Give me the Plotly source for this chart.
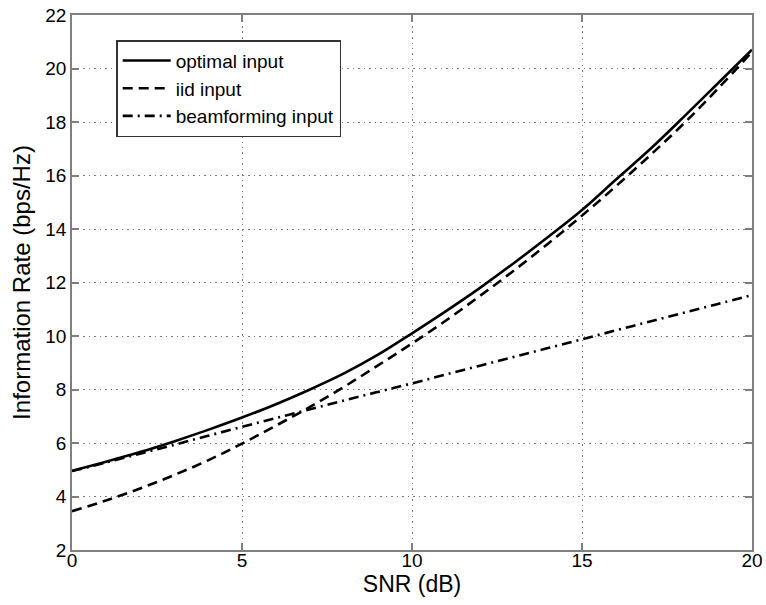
import plotly.graph_objects as go

snr_db = list(range(0, 21))
optimal_input = [4.96, 5.30, 5.66, 6.06, 6.49, 6.95, 7.45, 8.00, 8.60, 9.30, 10.10,
                 10.93, 11.80, 12.73, 13.70, 14.71, 15.85, 16.98, 18.20, 19.45, 20.70]
iid_input = [3.45, 3.85, 4.30, 4.80, 5.35, 5.98, 6.65, 7.35, 8.10, 8.90, 9.72,
             10.58, 11.50, 12.45, 13.45, 14.50, 15.60, 16.75, 17.95, 19.25, 20.62]
beamforming_input = [4.95, 5.27, 5.60, 5.93, 6.27, 6.60, 6.93, 7.26, 7.59, 7.91, 8.23,
                     8.56, 8.89, 9.22, 9.55, 9.88, 10.21, 10.54, 10.87, 11.20, 11.53]

x_ticks = [0, 5, 10, 15, 20]
y_ticks = [2, 4, 6, 8, 10, 12, 14, 16, 18, 20, 22]

font = "Liberation Sans, Arial, sans-serif"

fig = go.Figure()
fig.add_trace(go.Scatter(x=snr_db, y=optimal_input, mode="lines", name="optimal input",
                         line=dict(color="black", width=2.6, shape="spline")))
fig.add_trace(go.Scatter(x=snr_db, y=iid_input, mode="lines", name="iid input",
                         line=dict(color="black", width=2.6, dash="10px,6px", shape="spline")))
fig.add_trace(go.Scatter(x=snr_db, y=beamforming_input, mode="lines", name="beamforming input",
                         line=dict(color="black", width=2.6, dash="10px,5px,2px,5px", shape="spline")))

axis_common = dict(
    showline=True, linecolor="#7f7f7f", linewidth=1.5, mirror="ticks",
    ticks="inside", ticklen=7, tickcolor="#7f7f7f", tickwidth=1.5,
    showgrid=True, gridcolor="#7a7a7a", gridwidth=1, griddash="1.5px,4px",
    zeroline=False, automargin=False,
    tickfont=dict(family=font, size=19, color="black"),
)

fig.update_xaxes(range=[0, 20], tickvals=x_ticks, ticklabelstandoff=-8,
                 title=dict(text="SNR (dB)", font=dict(family=font, size=23, color="black"), standoff=2),
                 **axis_common)
fig.update_yaxes(range=[2, 22], tickvals=y_ticks,
                 title=dict(text="Information Rate (bps/Hz)", font=dict(family=font, size=24, color="black"), standoff=8),
                 **axis_common)

fig.update_layout(
    width=766, height=605,
    margin=dict(l=72, r=14, t=15, b=55, autoexpand=False),
    plot_bgcolor="white", paper_bgcolor="white",
    font=dict(family=font, color="black"),
    legend=dict(x=0.065, y=0.953, xanchor="left", yanchor="top",
                bgcolor="white", bordercolor="#333333", borderwidth=1.5,
                font=dict(family=font, size=19, color="black"),
                tracegroupgap=0, itemwidth=48),
    showlegend=True,
)

fig.write_html("out.html",
               config={"displayModeBar": False},
               post_script="document.body.style.margin='0';document.body.style.padding='0';")
